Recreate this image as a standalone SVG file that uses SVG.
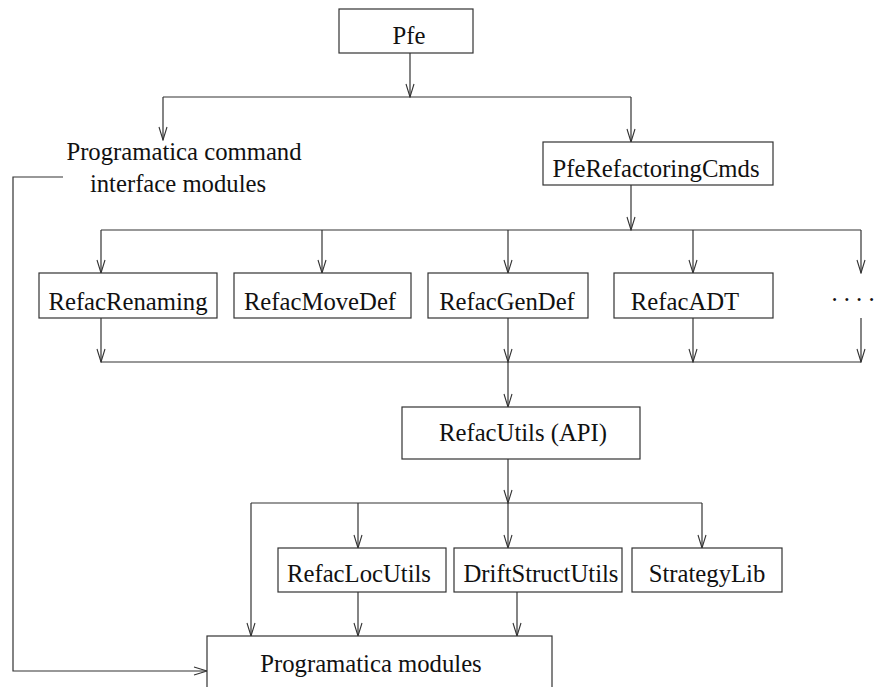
<svg xmlns="http://www.w3.org/2000/svg" width="882" height="687" viewBox="0 0 882 687">
<defs>
<marker id="arr" markerUnits="userSpaceOnUse" markerWidth="15" markerHeight="10" viewBox="0 0 15 10" refX="14" refY="5" orient="auto">
<path d="M1,1 L14,5 L1,9" fill="none" stroke="#333" stroke-width="1.1"/>
</marker>
</defs>
<style>
.box{fill:#fff;stroke:#333;stroke-width:1.2}
.t{font-family:"Liberation Serif","Times New Roman",serif;font-size:24.7px;fill:#111;text-anchor:middle}
.c{fill:none;stroke:#333;stroke-width:1.2}
.a{marker-end:url(#arr)}
</style>
<rect width="882" height="687" fill="#fff"/>
<g id="connectors">
<path class="c a" d="M410,53 V97"/>
<path class="c" d="M163,97 H631"/>
<path class="c a" d="M163,97 V140"/>
<path class="c a" d="M631,97 V142"/>
<path class="c a" d="M631,185 V230"/>
<path class="c" d="M101,230 H861"/>
<path class="c a" d="M101,230 V273"/>
<path class="c a" d="M322,230 V273"/>
<path class="c a" d="M508,230 V273"/>
<path class="c a" d="M693,230 V273"/>
<path class="c a" d="M861,230 V273"/>
<path class="c a" d="M101,318 V362"/>
<path class="c a" d="M508,318 V362"/>
<path class="c a" d="M693,318 V362"/>
<path class="c a" d="M861,318 V362"/>
<path class="c" d="M101,362 H861"/>
<path class="c a" d="M508,362 V407"/>
<path class="c a" d="M508,459 V503"/>
<path class="c" d="M251,503 H702"/>
<path class="c a" d="M251,503 V636"/>
<path class="c a" d="M358,503 V548"/>
<path class="c a" d="M508,503 V548"/>
<path class="c a" d="M702,503 V548"/>
<path class="c a" d="M358,592 V636"/>
<path class="c a" d="M517,592 V636"/>
<path class="c a" d="M63,177 H13 V671 H207"/>
</g>
<g id="pfe"><rect class="box" x="339" y="9" width="134" height="44"/><text class="t" x="409" y="44">Pfe</text></g>
<g id="cmdif"><text class="t" x="184" y="160">Programatica command</text><text class="t" x="178" y="192">interface modules</text></g>
<g id="pferefcmds"><rect class="box" x="543" y="142" width="230" height="43"/><text class="t" x="656" y="177">PfeRefactoringCmds</text></g>
<g id="refacrenaming"><rect class="box" x="39" y="273" width="178" height="45"/><text class="t" x="128" y="310">RefacRenaming</text></g>
<g id="refacmovedef"><rect class="box" x="234" y="273" width="177" height="45"/><text class="t" x="320" y="310">RefacMoveDef</text></g>
<g id="refacgendef"><rect class="box" x="428" y="273" width="160" height="45"/><text class="t" x="507" y="310">RefacGenDef</text></g>
<g id="refacadt"><rect class="box" x="614" y="273" width="159" height="45"/><text class="t" x="685" y="310">RefacADT</text></g>
<g id="more"><text class="t" x="853" y="301">. . . .</text></g>
<g id="refacutils"><rect class="box" x="402" y="407" width="238" height="52"/><text class="t" x="523" y="441">RefacUtils (API)</text></g>
<g id="refaclocutils"><rect class="box" x="278" y="548" width="168" height="44"/><text class="t" x="359" y="582">RefacLocUtils</text></g>
<g id="driftstructutils"><rect class="box" x="454" y="548" width="168" height="44"/><text class="t" x="541" y="582">DriftStructUtils</text></g>
<g id="strategylib"><rect class="box" x="632" y="548" width="150" height="44"/><text class="t" x="707" y="582">StrategyLib</text></g>
<g id="progmodules"><rect class="box" x="207" y="636" width="345" height="70"/><text class="t" x="371" y="672">Programatica modules</text></g>
</svg>
